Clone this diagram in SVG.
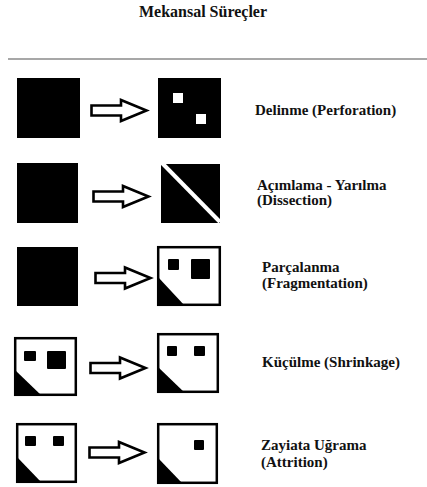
<svg xmlns="http://www.w3.org/2000/svg" width="427" height="487" viewBox="0 0 427 487">
<style>
  .t{font-family:"Liberation Serif","Times New Roman",serif;font-weight:bold;fill:#111;}
  .lbl{font-size:15px;}
  .ttl{font-size:16px;}
  .solid{fill:#000;}
  .frame{fill:#fff;stroke:#000;stroke-width:2.5;}
  .hole{fill:#fff;}
  .blk{fill:#000;}
</style>
<defs>
  <path id="arrow" d="M1.5,-5 H31 V-10.5 L56.5,0 L31,10.5 V5 H1.5 Z" fill="#fff" stroke="#000" stroke-width="2.6" stroke-linejoin="miter"/>
</defs>
<rect width="427" height="487" fill="#fff"/>
<text class="t ttl" x="203" y="17" text-anchor="middle">Mekansal Süreçler</text>
<line x1="8" y1="59" x2="427" y2="59" stroke="#8a8a8a" stroke-width="1.5"/>

<g id="row1">
  <rect class="solid" x="17" y="78" width="63" height="60"/>
  <rect class="solid" x="158" y="78" width="63" height="60"/>
  <rect class="hole" x="173" y="93" width="10" height="10"/>
  <rect class="hole" x="196" y="114" width="10" height="10"/>
  <text class="t lbl" x="255" y="115">Delinme (Perforation)</text>
</g>
<g id="row2">
  <rect class="solid" x="17" y="163" width="61" height="60"/>
  <rect class="solid" x="161" y="164" width="59" height="59"/>
  <line x1="162" y1="163" x2="220" y2="222" stroke="#fff" stroke-width="4"/>
  <text class="t lbl" x="257" y="190">Açımlama - Yarılma</text>
  <text class="t lbl" x="257" y="205">(Dissection)</text>
</g>
<g id="row3">
  <rect class="solid" x="17" y="247" width="61" height="59"/>
  <rect class="frame" x="158.2" y="247.2" width="61.6" height="57.6"/>
  <polygon class="blk" points="158,277 158,306 185,306"/>
  <rect class="blk" x="168" y="259" width="11" height="11" rx="1"/>
  <rect class="blk" x="191" y="259" width="19" height="20" rx="1"/>
  <text class="t lbl" x="262" y="272">Parçalanma</text>
  <text class="t lbl" x="262" y="288">(Fragmentation)</text>
</g>
<g id="row4">
  <rect class="frame" x="15.2" y="338.2" width="60.6" height="56.6"/>
  <polygon class="blk" points="15,370 15,396 42,396"/>
  <rect class="blk" x="24" y="351" width="12" height="10" rx="1"/>
  <rect class="blk" x="47" y="351" width="19" height="18" rx="1"/>
  <rect class="frame" x="158.2" y="334.2" width="59.6" height="57.6"/>
  <polygon class="blk" points="158,367 158,393 185,393"/>
  <rect class="blk" x="167" y="346" width="10" height="10" rx="1"/>
  <rect class="blk" x="194" y="346" width="11" height="10" rx="1"/>
  <text class="t lbl" x="262" y="367">Küçülme (Shrinkage)</text>
</g>
<g id="row5">
  <rect class="frame" x="17.2" y="424.2" width="58.6" height="57.6"/>
  <polygon class="blk" points="17,457 17,483 42,483"/>
  <rect class="blk" x="25" y="436" width="11" height="10" rx="1"/>
  <rect class="blk" x="53" y="436" width="11" height="10" rx="1"/>
  <rect class="frame" x="158.2" y="424.2" width="58.6" height="58.6"/>
  <polygon class="blk" points="158,458 158,484 183,484"/>
  <rect class="blk" x="194" y="440" width="10" height="10" rx="1"/>
  <text class="t lbl" x="261" y="450">Zayiata Uğrama</text>
  <text class="t lbl" x="261" y="467">(Attrition)</text>
</g>
<g id="connectors">
  <use href="#arrow" x="90" y="110.5"/>
  <use href="#arrow" x="92" y="196.5"/>
  <use href="#arrow" x="94" y="278"/>
  <use href="#arrow" x="89" y="368"/>
  <use href="#arrow" x="88" y="452.5"/>
</g>
</svg>
